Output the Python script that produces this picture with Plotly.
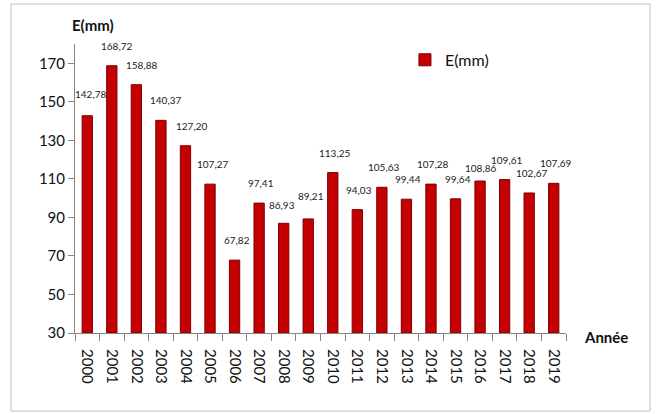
import plotly.graph_objects as go

# Annual values E(mm), 2000-2019
years = [str(y) for y in range(2000, 2020)]
values = [142.78, 168.72, 158.88, 140.37, 127.20, 107.27, 67.82, 97.41, 86.93, 89.21,
          113.25, 94.03, 105.63, 99.44, 107.28, 99.64, 108.86, 109.61, 102.67, 107.69]
y_ticks = [30, 50, 70, 90, 110, 130, 150, 170]
Y_MIN, Y_MAX = 30, 180

labels = [f"{v:.2f}".replace(".", ",") for v in values]
FONT = "Lato, Open Sans, sans-serif"

# value labels sit above each bar; a few are nudged to keep clear of neighbours
LABEL_RAISE = 20
label_nudge = {"2000": (3, 2), "2001": (5, 0), "2002": (5, 0), "2003": (5, 0),
               "2004": (6, 0), "2008": (-2, -2), "2009": (3, 3), "2016": (0, -7)}

fig = go.Figure()
# bars start at the axis floor, so heights are measured from Y_MIN
fig.add_trace(go.Bar(
    x=years, y=[v - Y_MIN for v in values], base=Y_MIN, name="E(mm)",
    width=0.42,
    marker=dict(color="#C40000", line=dict(color="#7E0000", width=1)),
    hovertext=labels, hovertemplate="%{x}: %{hovertext}<extra></extra>",
))

annotations = []
for i, (yr, v, lab) in enumerate(zip(years, values, labels)):
    dx, dy = label_nudge.get(yr, (2, 0))
    annotations.append(dict(
        x=i, y=v, xref="x", yref="y", text=lab, showarrow=False,
        xanchor="center", yanchor="middle",
        xshift=dx, yshift=LABEL_RAISE + dy,
        font=dict(size=10, family=FONT, color="#222222"),
    ))

annotations += [
    dict(text="<b>E(mm)</b>", xref="paper", yref="paper",
         x=(93 - 75) / 491, y=(333 - 25) / 289, showarrow=False,
         xanchor="center", yanchor="middle",
         font=dict(size=15, family=FONT, color="#111111")),
    dict(text="<b>Année</b>", xref="paper", yref="paper",
         x=(606 - 75) / 491, y=(333 - 337) / 289, showarrow=False,
         xanchor="center", yanchor="middle",
         font=dict(size=15, family=FONT, color="#111111")),
]

fig.update_layout(
    width=656, height=414,
    margin=dict(l=75, r=90, t=44, b=81),
    paper_bgcolor="white", plot_bgcolor="white",
    font=dict(family=FONT, size=15, color="#111111"),
    showlegend=True,
    legend=dict(x=0.672, y=0.945, xanchor="left", yanchor="middle", itemwidth=30,
                font=dict(size=16, family=FONT), bgcolor="rgba(0,0,0,0)"),
    xaxis=dict(
        type="category", categoryorder="array", categoryarray=years,
        range=[-0.5, len(years) - 0.5],
        tickangle=90, tickson="boundaries",
        ticks="outside", ticklen=7, tickcolor="#868686",
        ticklabelstandoff=12,
        showline=True, linecolor="#868686", linewidth=1,
        tickfont=dict(size=15, family=FONT, color="#111111"),
        showgrid=False,
    ),
    yaxis=dict(
        range=[Y_MIN, Y_MAX], tickvals=y_ticks, ticktext=[str(t) for t in y_ticks],
        ticks="outside", ticklen=6, tickcolor="#868686",
        showline=True, linecolor="#868686", linewidth=1,
        showgrid=False, zeroline=False,
        tickfont=dict(size=15, family=FONT, color="#111111"),
    ),
    shapes=[dict(type="rect", xref="paper", yref="paper",
                 x0=-64/491, x1=575/491, y0=-78/289, y1=329/289,
                 line=dict(color="#BFBFBF", width=1), fillcolor="rgba(0,0,0,0)",
                 layer="below")],
    annotations=annotations,
)

fig.write_html("out.html")
